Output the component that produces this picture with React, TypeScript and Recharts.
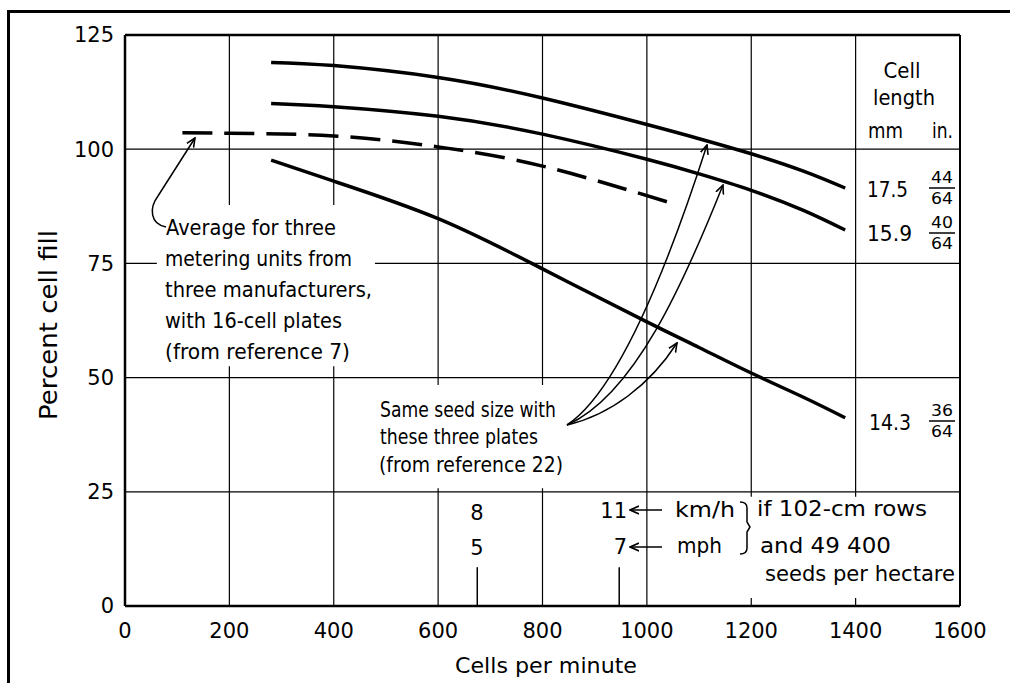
import React from 'react';
import { LineChart, Line, XAxis, YAxis, CartesianGrid, ReferenceArea, ReferenceLine } from 'recharts';

// ---- data ----
const cellsPerMinute = [280, 400, 600, 800, 1000, 1100, 1200, 1300, 1380];
const fill175 = [119, 118.3, 115.7, 111.2, 105.4, 102.3, 99, 95.2, 91.5]; // 17.5 mm (44/64 in.) cells
const fill159 = [110, 109.3, 107.2, 103.3, 97.8, 94.6, 91, 86.6, 82.3]; // 15.9 mm (40/64 in.) cells
const fill143 = [97.6, 93, 84.8, 73.8, 62.2, 56.6, 51, 45.7, 41.2]; // 14.3 mm (36/64 in.) cells
const avgCells = [110, 200, 400, 600, 800, 1044];
const avgFill = [103.6, 103.5, 102.9, 100.5, 96.3, 88.3]; // average, three metering units
const xTicks = [0, 200, 400, 600, 800, 1000, 1200, 1400, 1600];
const yTicks = [0, 25, 50, 75, 100, 125];
const speedMarks = [675, 947]; // 8 km/h (5 mph), 11 km/h (7 mph)

const plateData = cellsPerMinute.map((cells, i) => ({
  cells,
  p175: fill175[i],
  p159: fill159[i],
  p143: fill143[i],
}));
const avgData = avgCells.map((cells, i) => ({ cells, avg: avgFill[i] }));

const W = 1010;
const H = 683;
const FONT = '"DejaVu Sans", sans-serif';

type TProps = {
  x: number;
  y: number;
  len?: number;
  size?: number;
  anchor?: 'start' | 'middle' | 'end';
  children: React.ReactNode;
};
const T = ({ x, y, len, size = 21, anchor = 'start', children }: TProps) => (
  <text
    x={x}
    y={y}
    fontSize={size}
    fontFamily={FONT}
    fill="#000"
    textAnchor={anchor}
    {...(len ? { textLength: len, lengthAdjust: 'spacingAndGlyphs' } : {})}
  >
    {children}
  </text>
);

const Frac = ({ cx, y, num }: { cx: number; y: number; num: string }) => (
  <g>
    <T x={cx} y={y - 5} size={15} anchor="middle" len={22}>{num}</T>
    <line x1={cx - 13} x2={cx + 13} y1={y} y2={y} stroke="#000" strokeWidth={1.5} />
    <T x={cx} y={y + 16} size={15} anchor="middle" len={22}>64</T>
  </g>
);

const Overlay = () => (
  <svg
    width={W}
    height={H}
    style={{ position: 'absolute', left: 0, top: 0, pointerEvents: 'none' }}
  >
    <defs>
      <marker
        id="ah"
        viewBox="0 0 10 10"
        refX={9}
        refY={5}
        markerWidth={10}
        markerHeight={10}
        markerUnits="userSpaceOnUse"
        orient="auto"
      >
        <path d="M0,1 L9,5 L0,9" fill="none" stroke="#000" strokeWidth={1.6} />
      </marker>
    </defs>

    {/* axis title */}
    <text
      x={0}
      y={0}
      transform="translate(57,325) rotate(-90)"
      fontSize={24}
      fontFamily={FONT}
      textAnchor="middle"
      textLength={190}
      lengthAdjust="spacingAndGlyphs"
      fill="#000"
    >
      Percent cell fill
    </text>
    <T x={546} y={673} size={22} anchor="middle" len={182}>Cells per minute</T>

    {/* right column header */}
    <T x={902} y={78} anchor="middle" len={37}>Cell</T>
    <T x={904} y={105} anchor="middle" len={62}>length</T>
    <T x={868} y={138} len={35}>mm</T>
    <T x={932} y={138} len={21}>in.</T>

    <T x={867} y={197} len={41}>17.5</T>
    <Frac cx={942} y={188} num="44" />
    <T x={867} y={241} len={45}>15.9</T>
    <Frac cx={942} y={233} num="40" />
    <T x={869} y={430} len={42}>14.3</T>
    <Frac cx={942} y={421} num="36" />

    {/* average annotation */}
    <T x={166} y={235} len={170}>Average for three</T>
    <T x={165} y={266} len={187}>metering units from</T>
    <T x={165} y={297} len={207}>three manufacturers,</T>
    <T x={165} y={328} len={177}>with 16-cell plates</T>
    <T x={165} y={359} len={185}>(from reference 7)</T>
    <path
      d="M166,227 C150,224 149,208 158,196 L195,138"
      fill="none"
      stroke="#000"
      strokeWidth={1.5}
      markerEnd="url(#ah)"
    />

    {/* same seed size annotation */}
    <T x={380} y={417} len={176}>Same seed size with</T>
    <T x={380} y={444} len={158}>these three plates</T>
    <T x={379} y={472} len={184}>(from reference 22)</T>
    <path d="M567,425 C620,390 670,260 707,145" fill="none" stroke="#000" strokeWidth={1.5} markerEnd="url(#ah)" />
    <path d="M567,425 C635,395 685,280 723,185" fill="none" stroke="#000" strokeWidth={1.5} markerEnd="url(#ah)" />
    <path d="M567,425 C610,415 650,385 677,343" fill="none" stroke="#000" strokeWidth={1.5} markerEnd="url(#ah)" />

    {/* speed scale */}
    <T x={477} y={520} anchor="middle">8</T>
    <T x={477} y={555} anchor="middle">5</T>
    <T x={627} y={518} anchor="end">11</T>
    <T x={627} y={554} anchor="end">7</T>
    <path d="M662,510 L630,510" stroke="#000" strokeWidth={1.5} markerEnd="url(#ah)" />
    <path d="M662,547 L630,547" stroke="#000" strokeWidth={1.5} markerEnd="url(#ah)" />
    <T x={675} y={517} len={60}>km/h</T>
    <T x={677} y={553} len={45}>mph</T>
    <path
      d="M740,502 Q747,502 747,508 L747,522 L750,527 L747,532 L747,548 Q747,554 740,554"
      fill="none"
      stroke="#000"
      strokeWidth={1.5}
    />
    <T x={757} y={516} len={170}>if 102-cm rows</T>
    <T x={760} y={553} len={131}>and 49 400</T>
    <T x={765} y={581} len={190}>seeds per hectare</T>
  </svg>
);

export default function App() {
  const tickStyle = { fill: '#000', fontSize: 21, fontFamily: FONT };
  return (
    <div
      style={{
        position: 'absolute',
        left: 0,
        top: 0,
        width: W,
        height: H,
        background: '#fff',
        overflow: 'hidden',
      }}
    >
      {/* outer frame */}
      <div style={{ position: 'absolute', left: 7, top: 10, width: 3, height: H - 10, background: '#000' }} />
      <div style={{ position: 'absolute', left: 7, top: 10, width: W - 7, height: 3, background: '#000' }} />

      <div style={{ position: 'absolute', left: 0, top: 0 }}>
        <LineChart
          width={W}
          height={H}
          data={plateData}
          margin={{ top: 35, right: 50, bottom: 37, left: 65 }}
        >
          <CartesianGrid stroke="#000" strokeWidth={1.2} />
          <XAxis
            type="number"
            dataKey="cells"
            domain={[0, 1600]}
            ticks={xTicks}
            tickSize={0}
            tickMargin={17}
            tickLine={false}
            height={40}
            axisLine={{ stroke: '#000', strokeWidth: 2.5 }}
            tick={tickStyle}
            allowDataOverflow
          />
          <YAxis
            type="number"
            domain={[0, 125]}
            ticks={yTicks}
            tickSize={0}
            tickMargin={11}
            tickLine={false}
            width={60}
            axisLine={{ stroke: '#000', strokeWidth: 2.5 }}
            tick={tickStyle}
            allowDataOverflow
          />
          <ReferenceArea x1={61} x2={479} y1={52.5} y2={87.8} fill="#fff" fillOpacity={1} stroke="none" />
          <ReferenceArea x1={450} x2={849} y1={25.8} y2={48.4} fill="#fff" fillOpacity={1} stroke="none" />
          <ReferenceArea x1={1016} x2={1596} y1={1.75} y2={23.9} fill="#fff" fillOpacity={1} stroke="none" />
          <ReferenceLine y={125} stroke="#000" strokeWidth={2.5} />
          <ReferenceLine x={1600} stroke="#000" strokeWidth={2} />
          {speedMarks.map((m) => (
            <ReferenceLine
              key={m}
              segment={[
                { x: m, y: 0 },
                { x: m, y: 8.5 },
              ]}
              stroke="#000"
              strokeWidth={1.5}
            />
          ))}
          <Line type="natural" dataKey="p175" stroke="#000" strokeWidth={3.5} dot={false} isAnimationActive={false} />
          <Line type="natural" dataKey="p159" stroke="#000" strokeWidth={3.5} dot={false} isAnimationActive={false} />
          <Line type="natural" dataKey="p143" stroke="#000" strokeWidth={3.5} dot={false} isAnimationActive={false} />
          <Line
            type="natural"
            data={avgData}
            dataKey="avg"
            stroke="#000"
            strokeWidth={3.5}
            strokeDasharray="30 12"
            dot={false}
            isAnimationActive={false}
          />
        </LineChart>
      </div>
      <Overlay />
    </div>
  );
}
